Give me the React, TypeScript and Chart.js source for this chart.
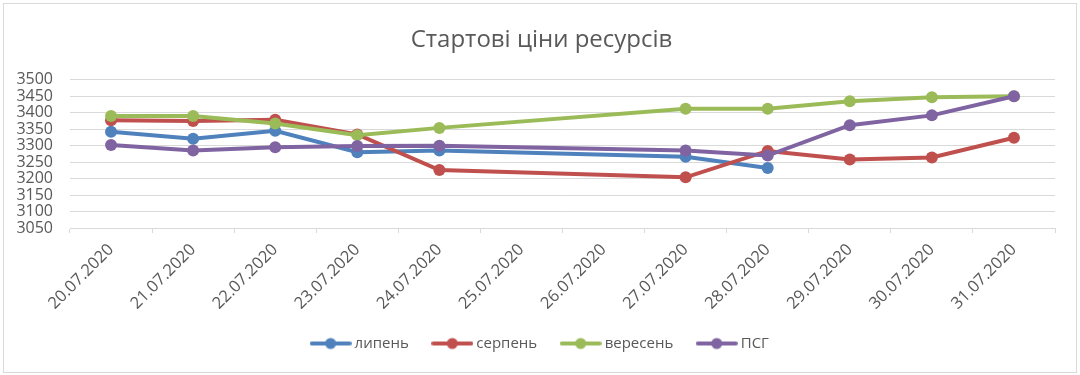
import React, { useEffect, useRef } from 'react';
import { Chart, registerables } from 'chart.js';
Chart.register(...registerables);

const title = 'Стартові ціни ресурсів';
const categories = [
  '20.07.2020', '21.07.2020', '22.07.2020', '23.07.2020', '24.07.2020', '25.07.2020',
  '26.07.2020', '27.07.2020', '28.07.2020', '29.07.2020', '30.07.2020', '31.07.2020',
];
const seriesNames = ['липень', 'серпень', 'вересень', 'ПСГ'];
const lipen = [3342, 3321, 3345, 3280, 3285, null, null, 3266, 3232, null, null, null];
const serpen = [3377, 3375, 3379, 3334, 3226, null, null, 3204, 3284, 3258, 3264, 3324];
const veresen = [3390, 3390, 3367, 3332, 3354, null, null, 3412, 3412, 3435, 3447, 3450];
const psg = [3302, 3285, 3295, 3299, 3300, null, null, 3285, 3270, 3362, 3392, 3450];
const seriesValues = [lipen, serpen, veresen, psg];
const seriesColors = ['#4F81BD', '#C0504D', '#9BBB59', '#8064A2'];
const yMin = 3050;
const yMax = 3500;
const yStep = 50;

const FONT = "'Open Sans', sans-serif";
const TEXT = '#595959';
const GRID = '#D9D9D9';

function makeIcon(color: string) {
  const c = document.createElement('canvas');
  c.width = 42;
  c.height = 14;
  const ctx = c.getContext('2d')!;
  ctx.strokeStyle = color;
  ctx.lineWidth = 4;
  ctx.lineCap = 'round';
  ctx.beginPath();
  ctx.moveTo(2, 7);
  ctx.lineTo(40, 7);
  ctx.stroke();
  ctx.fillStyle = color;
  ctx.beginPath();
  ctx.arc(21, 7, 5.5, 0, Math.PI * 2);
  ctx.fill();
  return c;
}

export default function App() {
  const ref = useRef<HTMLCanvasElement>(null);
  useEffect(() => {
    if (!ref.current) return;
    const icons = seriesColors.map(makeIcon);
    const chart = new Chart(ref.current, {
      type: 'line',
      data: {
        labels: categories,
        datasets: seriesNames.map((name, i) => ({
          label: name,
          data: seriesValues[i],
          borderColor: seriesColors[i],
          backgroundColor: seriesColors[i],
          borderWidth: 4,
          pointRadius: 6,
          pointBorderWidth: 0,
          pointBackgroundColor: seriesColors[i],
          spanGaps: true,
          tension: 0,
          order: seriesNames.length - i,
          yAxisID: 'y',
        })),
      },
      options: {
        animation: false,
        responsive: false,
        layout: { padding: { left: 3, right: 0, top: 26, bottom: 14 } },
        plugins: {
          title: {
            display: true,
            text: title,
            color: TEXT,
            font: { family: FONT, size: 24, weight: 'normal', lineHeight: 1.2 },
            padding: { top: 0, bottom: 25 },
          },
          tooltip: { enabled: false },
          legend: {
            position: 'bottom',
            labels: {
              usePointStyle: true,
              pointStyleWidth: 33,
              padding: 27,
              color: TEXT,
              font: { family: FONT, size: 15 },
              generateLabels: (ch: any) =>
                ch.data.datasets.map((ds: any, i: number) => ({
                  text: ds.label,
                  pointStyle: icons[i],
                  fillStyle: seriesColors[i],
                  strokeStyle: seriesColors[i],
                  lineWidth: 0,
                  hidden: false,
                  datasetIndex: i,
                  fontColor: TEXT,
                })),
            },
          },
        },
        scales: {
          x: {
            offset: true,
            grid: {
              drawOnChartArea: false,
              drawTicks: true,
              tickLength: 5,
              color: GRID,
              offset: true,
            },
            border: { color: GRID },
            ticks: {
              autoSkip: false,
              minRotation: 45,
              maxRotation: 45,
              color: TEXT,
              font: { family: FONT, size: 16.5 },
              padding: 7,
            },
            afterFit: (s: any) => {
              s.height = 81;
            },
          },
          y: {
            min: yMin,
            max: yMax,
            ticks: {
              stepSize: yStep,
              autoSkip: false,
              color: TEXT,
              font: { family: FONT, size: 16 },
              padding: 17,
              callback: (v: any) => String(v),
            },
            grid: { color: GRID, drawTicks: false },
            border: { display: false },
            afterFit: (s: any) => {
              s.width = 67;
            },
          },
          yPad: {
            type: 'linear',
            position: 'right',
            display: true,
            ticks: { display: false },
            grid: { display: false },
            border: { display: false },
            afterFit: (s: any) => {
              s.width = 25;
            },
          },
        },
      },
    } as any);
    return () => chart.destroy();
  }, []);
  return (
    <div style={{ position: 'fixed', left: 0, top: 0, width: 1080, height: 375, background: '#fff' }}>
      <canvas ref={ref} width={1080} height={375} style={{ position: 'absolute', left: 0, top: 0 }} />
      <div
        style={{
          position: 'absolute',
          left: 3,
          top: 3,
          width: 1074,
          height: 370,
          border: `1px solid ${GRID}`,
          boxSizing: 'border-box',
          pointerEvents: 'none',
        }}
      />
    </div>
  );
}
